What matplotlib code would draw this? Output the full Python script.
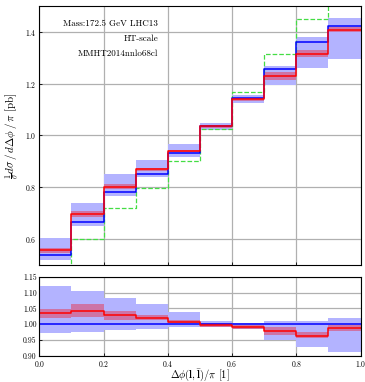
import matplotlib
matplotlib.use('Agg')
import matplotlib.pyplot as plt
import numpy as np

plt.rcParams['font.family'] = 'serif'
plt.rcParams['font.serif'] = ['cmr10', 'DejaVu Serif']
plt.rcParams['mathtext.fontset'] = 'cm'
plt.rcParams['axes.formatter.use_mathtext'] = True

# bin edges
edges = np.linspace(0.0, 1.0, 11)

# main panel: blue (reference) line and band
blue = [0.539, 0.666, 0.780, 0.852, 0.932, 1.037, 1.146, 1.256, 1.360, 1.424]
blue_hi = [0.604, 0.740, 0.850, 0.907, 0.969, 1.047, 1.156, 1.269, 1.379, 1.452]
blue_lo = [0.520, 0.652, 0.768, 0.839, 0.916, 1.021, 1.124, 1.195, 1.262, 1.296]
# red line and band
red = [0.558, 0.697, 0.803, 0.869, 0.940, 1.035, 1.140, 1.230, 1.315, 1.409]
red_hi = [0.567, 0.710, 0.812, 0.876, 0.945, 1.040, 1.146, 1.247, 1.331, 1.420]
red_lo = [0.548, 0.687, 0.795, 0.862, 0.935, 1.030, 1.134, 1.215, 1.303, 1.398]
# green dashed
green = [0.45, 0.600, 0.719, 0.798, 0.901, 1.027, 1.167, 1.315, 1.450, 1.56]

# ratio panel
r_blue_hi = [1.121, 1.106, 1.083, 1.064, 1.038, 1.011, 1.003, 1.011, 1.011, 1.019]
r_blue_lo = [0.974, 0.976, 0.981, 0.986, 0.992, 0.990, 0.984, 0.951, 0.928, 0.911]
r_red = [1.035, 1.043, 1.029, 1.021, 1.008, 0.998, 0.992, 0.979, 0.964, 0.987]
r_red_hi = [1.049, 1.064, 1.042, 1.030, 1.012, 1.003, 0.998, 0.990, 0.977, 0.997]
r_red_lo = [1.019, 1.023, 1.014, 1.014, 1.005, 0.990, 0.986, 0.966, 0.956, 0.980]


def st(v):
    return np.append(v, v[-1])


fig = plt.figure(figsize=(3.65, 3.82), dpi=100)
ax = fig.add_axes([0.1077, 0.3063, 0.88, 0.678])
ax2 = fig.add_axes([0.1077, 0.0681, 0.88, 0.2076])

bc = '#b3b3ff'
rc = 'red'

for a in (ax, ax2):
    a.grid(True, color='#b0b0b0', lw=0.9)
    a.set_axisbelow(True)
    a.set_xlim(0, 1)
    a.tick_params(labelsize=5.5, direction='in', length=2, width=0.6, pad=2)

ax.fill_between(edges, st(blue_lo), st(blue_hi), step='post', color=bc, lw=0)
ax.fill_between(edges, st(red_lo), st(red_hi), step='post', color=rc, alpha=0.35, lw=0)
ax.step(edges, st(green), where='post', color='#44dd44', ls='--', lw=0.9)
ax.step(edges, st(blue), where='post', color='blue', lw=1.1)
ax.step(edges, st(red), where='post', color='red', lw=1.1)
ax.set_ylim(0.5, 1.5)
ax.set_yticks([0.6, 0.8, 1.0, 1.2, 1.4])
ax.set_xticklabels([])
ax.set_ylabel(r'$\frac{1}{\sigma}d\sigma\,/\,d\Delta\phi\,/\,\pi$ [pb]', fontsize=8, labelpad=3)

ax.text(0.37, 0.93, 'Mass:172.5 GeV LHC13', transform=ax.transAxes, ha='right', va='center', fontsize=6.5)
ax.text(0.37, 0.874, 'HT-scale', transform=ax.transAxes, ha='right', va='center', fontsize=6.5)
ax.text(0.37, 0.815, 'MMHT2014nnlo68cl', transform=ax.transAxes, ha='right', va='center', fontsize=6.5)

ones = np.ones(len(edges))
ax2.fill_between(edges, st(r_blue_lo), st(r_blue_hi), step='post', color=bc, lw=0)
ax2.fill_between(edges, st(r_red_lo), st(r_red_hi), step='post', color=rc, alpha=0.35, lw=0)
ax2.plot(edges, ones, color='blue', lw=1.1)
ax2.step(edges, st(r_red), where='post', color='red', lw=1.1)
ax2.set_ylim(0.9, 1.15)
ax2.set_yticks([0.90, 0.95, 1.00, 1.05, 1.10, 1.15])
ax2.set_yticklabels(['0.90', '0.95', '1.00', '1.05', '1.10', '1.15'])
ax2.set_xticks([0.0, 0.2, 0.4, 0.6, 0.8, 1.0])
ax2.set_xlabel(r'$\mathbf{\Delta\phi(l,\bar{l})/\pi}$ [1]', fontsize=7.5, labelpad=-1.5)

fig.savefig('out.png', dpi=100)
